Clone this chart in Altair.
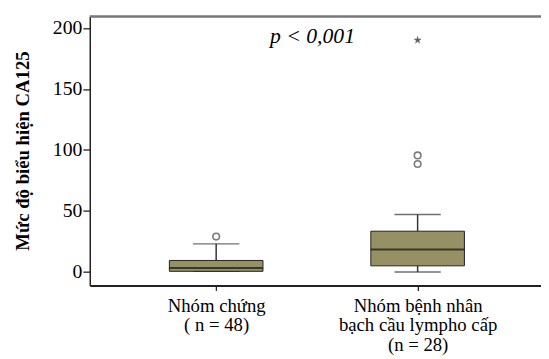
import json
import altair as alt
import pandas as pd

# ---- data ----
group_pos = [1, 2]
group_lines = [["Nhóm chứng", "( n = 48)"],
               ["Nhóm bệnh nhân", "bạch cầu lympho cấp", "(n = 28)"]]
whisker_low = [0.5, 0.0]
q1 = [0.5, 5.0]
median = [3.2, 18.3]
q3 = [9.4, 33.4]
whisker_high = [23.0, 47.0]

outlier_pos = [1, 2, 2]
outlier_val = [29.0, 88.5, 95.5]
extreme_pos = [2]
extreme_val = [190.0]

p_label = ["p < 0,001"]
p_pos = [1.478]
p_val = [193.0]

y_ticks = [0, 50, 100, 150, 200]

W, H = 458, 273
FONT = "'Liberation Serif', 'Times New Roman', Times, serif"
STAR = ("M0,-1L0.224,-0.309L0.951,-0.309L0.363,0.118L0.588,0.809L0,0.382"
        "L-0.588,0.809L-0.363,0.118L-0.951,-0.309L-0.224,-0.309Z")

boxes = pd.DataFrame({"pos": group_pos, "lo": whisker_low, "q1": q1,
                      "med": median, "q3": q3, "hi": whisker_high})
outl = pd.DataFrame({"pos": outlier_pos, "val": outlier_val})
ext = pd.DataFrame({"pos": extreme_pos, "val": extreme_val})
ptxt = pd.DataFrame({"pos": p_pos, "val": p_val, "t": p_label})

label_expr = "datum.value == {} ? {} : {}".format(
    group_pos[0], json.dumps(group_lines[0], ensure_ascii=False),
    json.dumps(group_lines[1], ensure_ascii=False))

xscale = alt.Scale(domain=[0.397, 2.588], nice=False, zero=False)
yscale = alt.Scale(domain=[-11.1, 209.4], nice=False, zero=False)

x_axis = alt.Axis(values=group_pos, labelExpr=label_expr, title=None,
                  orient="bottom", labelLineHeight=20, labelPadding=6,
                  labelFontSize=19,
                  labelBaseline="top", labelOverlap=False,
                  tickSize=5, domainWidth=2, labelAngle=0)
y_axis = alt.Axis(values=y_ticks, title="Mức độ biểu hiện CA125",
                  orient="left", labelPadding=1, tickSize=7,
                  domainWidth=1.5, titleX=-68, titleY=136,
                  titleAngle=270, titleAlign="center", titleBaseline="middle")


def X(field):
    return alt.X(field, scale=xscale, axis=x_axis)


def Y(field):
    return alt.Y(field, scale=yscale, axis=y_axis)


base = alt.Chart(boxes)

whisk_up = base.mark_rule(color="#333", strokeWidth=1.5).encode(
    x=X("pos:Q"), y=Y("q3:Q"), y2="hi:Q")
whisk_lo = base.mark_rule(color="#333", strokeWidth=1.5).encode(
    x=X("pos:Q"), y=Y("lo:Q"), y2="q1:Q")
cap_hi = base.mark_tick(color="#333", size=47, thickness=1.5,
                        orient="horizontal").encode(x=X("pos:Q"), y=Y("hi:Q"))
cap_lo = base.mark_tick(color="#333", size=47, thickness=1.5,
                        orient="horizontal").encode(x=X("pos:Q"), y=Y("lo:Q"))
box = base.mark_bar(size=95, orient="vertical", color="#959165",
                    stroke="#222", strokeWidth=1).encode(
    x=X("pos:Q"), y=Y("q1:Q"), y2="q3:Q")
med = base.mark_tick(color="#111", size=95, thickness=2,
                     orient="horizontal").encode(x=X("pos:Q"), y=Y("med:Q"))

outs = alt.Chart(outl).mark_point(shape="circle", filled=False, size=45,
                                  color="#444", strokeWidth=1.6).encode(
    x=X("pos:Q"), y=Y("val:Q"))
extr = alt.Chart(ext).mark_point(shape=STAR, filled=True, size=80,
                                 color="#222").encode(x=X("pos:Q"), y=Y("val:Q"))
ptext = alt.Chart(ptxt).mark_text(font=FONT, fontSize=22, fontStyle="italic",
                                  color="black", align="center",
                                  baseline="middle").encode(
    x=X("pos:Q"), y=Y("val:Q"), text="t:N")

top_line = base.mark_rule(color="#777", strokeWidth=2).encode(
    x=alt.value(0), x2=alt.value(W), y=alt.value(0))

chart = alt.layer(whisk_up, whisk_lo, cap_hi, cap_lo, box, med,
                  outs, extr, ptext, top_line).properties(
    width=W, height=H,
    autosize=alt.AutoSizeParams(type="none"),
    padding={"left": 83, "top": 6, "right": 0, "bottom": 72},
    background="white",
).configure_view(stroke=None).configure_axis(
    grid=False, labelFont=FONT, labelFontSize=20, labelColor="black",
    tickColor="#222", tickWidth=1.3, domainColor="#222",
    titleFont=FONT, titleFontSize=19, titleFontWeight="bold",
    titleColor="black")

chart.save("out.html", embed_options={"renderer": "svg", "actions": False})
